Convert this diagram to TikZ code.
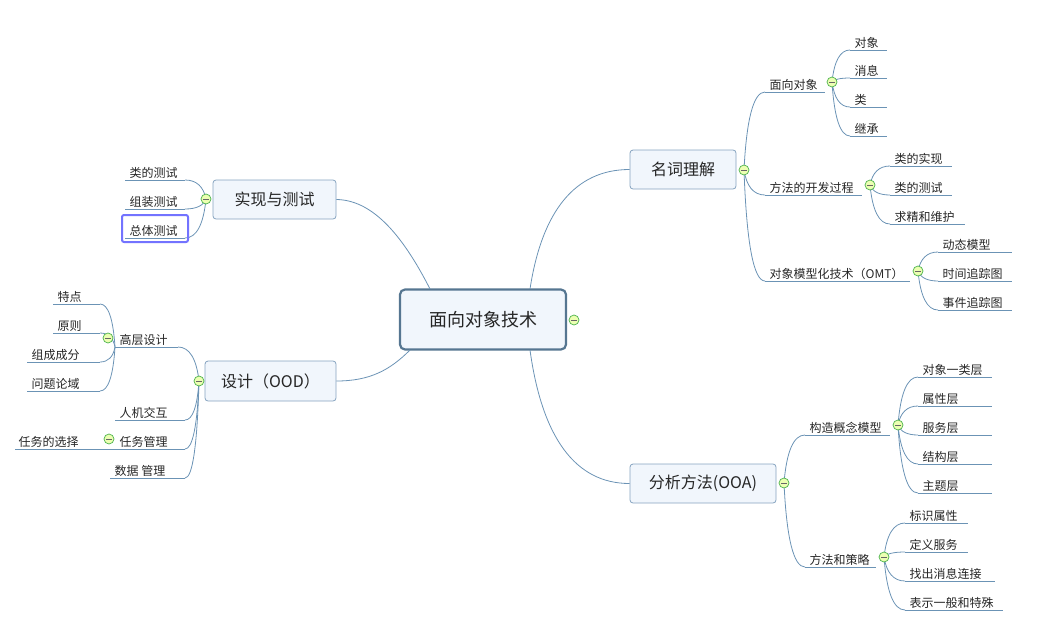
\documentclass[tikz,border=0pt]{standalone}
\usepackage{fontspec}
\newfontfamily\cjk{Noto Sans CJK SC}
\usetikzlibrary{calc}
\definecolor{lnc}{HTML}{6B93B5}
\definecolor{bxf}{HTML}{F1F6FC}
\definecolor{bxd}{HTML}{86A3C0}
\tikzset{
 ln/.style={draw=lnc,line width=0.8pt},
 lt/.style={font=\cjk\fontsize{12}{14}\selectfont,inner sep=1.5pt,text=black!85},
 mainbox/.style={draw=bxd,fill=bxf,rounded corners=3pt,line width=0.8pt,font=\cjk\fontsize{16}{18}\selectfont,text=black!85},
 tog/.style={circle,draw=green!40!gray,fill=green!25!yellow!30,line width=0.7pt,minimum size=10pt,inner sep=0pt,
   path picture={\draw[black!60,line width=0.8pt] ([xshift=-2.8pt]path picture bounding box.center) -- ([xshift=2.8pt]path picture bounding box.center);}}
}
\newcommand\lf[5]{\draw[ln] (#2,#4) coordinate(#1L) -- (#3,#4) coordinate(#1R);
 \node[lt,anchor=south west] (#1) at (#2+3,#4) {#5};}
\newcommand\cn[2]{\draw[ln] let \p1=(#1), \p2=(#2) in (\p1) .. controls (\x1+0.12*\x2-0.12*\x1, 0.35*\y1+0.65*\y2) and (\x1+0.45*\x2-0.45*\x1,\y2) .. (\p2);}
\begin{document}
\begin{tikzpicture}[x=1pt,y=-1pt]
\useasboundingbox (0,0) rectangle (1051,627);
% center
\node[mainbox,draw=lnc!80!black,line width=2.2pt,rounded corners=5pt,fill=bxf,minimum width=166pt,minimum height=60pt,font=\cjk\fontsize{18}{20}\selectfont] (c) at (483,319.5) {面向对象技术};
\node[tog] (cT) at (574,320) {};
% main boxes
\node[mainbox,minimum width=106pt,minimum height=39pt] (m1) at (683,169.5) {名词理解};
\node[mainbox,minimum width=146pt,minimum height=39pt] (m2) at (703,483.5) {分析方法(OOA)};
\node[mainbox,minimum width=123pt,minimum height=39pt] (m3) at (274.5,199.5) {实现与测试};
\node[mainbox,minimum width=131pt,minimum height=40pt] (m4) at (270.5,381) {设计（OOD）};
\coordinate (cA) at (430,289); \coordinate (cB) at (530,289);
\coordinate (cC) at (410,350); \coordinate (cD) at (530,350);
\cn{cB}{m1.west}
\cn{cD}{m2.west}
\draw[ln] (cA) .. controls (400,230) and (370,200) .. (m3.east);
\draw[ln] (cC) .. controls (390,370) and (370,381) .. (m4.east);
% names branch
\coordinate (t1) at (744,170);
\lf{a1}{765}{825}{92}{面向对象}
\lf{a2}{765}{862}{195}{方法的开发过程}
\lf{a3}{765}{910}{281}{对象模型化技术（OMT）}
\cn{t1}{a1L}\cn{t1}{a2L}\cn{t1}{a3L}
\coordinate (t11) at (832,82);
\lf{b1}{850}{887}{50}{对象}
\lf{b2}{850}{887}{78}{消息}
\lf{b3}{850}{887}{107}{类}
\lf{b4}{850}{887}{136}{继承}
\cn{t11}{b1L}\cn{t11}{b2L}\cn{t11}{b3L}\cn{t11}{b4L}
\coordinate (t12) at (870,185);
\lf{b5}{890}{952}{166}{类的实现}
\lf{b6}{890}{952}{195}{类的测试}
\lf{b7}{890}{965}{224}{求精和维护}
\cn{t12}{b5L}\cn{t12}{b6L}\cn{t12}{b7L}
\coordinate (t13) at (918,271);
\lf{b8}{938}{1012}{252}{动态模型}
\lf{b9}{938}{1012}{281}{时间追踪图}
\lf{b10}{938}{1012}{310}{事件追踪图}
\cn{t13}{b8L}\cn{t13}{b9L}\cn{t13}{b10L}
\node[tog] at (t1) {};\node[tog] at (t11) {};\node[tog] at (t12) {};\node[tog] at (t13) {};
% analysis branch
\coordinate (t2) at (784,483);
\lf{d1}{805}{890}{435}{构造概念模型}
\lf{d2}{805}{876}{567}{方法和策略}
\cn{t2}{d1L}\cn{t2}{d2L}
\coordinate (t21) at (898,425);
\lf{e1}{918}{992}{377}{对象一类层}
\lf{e2}{918}{992}{406}{属性层}
\lf{e3}{918}{992}{435}{服务层}
\lf{e4}{918}{992}{464}{结构层}
\lf{e5}{918}{992}{493}{主题层}
\cn{t21}{e1L}\cn{t21}{e2L}\cn{t21}{e3L}\cn{t21}{e4L}\cn{t21}{e5L}
\coordinate (t22) at (884,557);
\lf{e6}{905}{968}{523}{标识属性}
\lf{e7}{905}{968}{552}{定义服务}
\lf{e8}{905}{995}{581}{找出消息连接}
\lf{e9}{905}{1003}{610}{表示一般和特殊}
\cn{t22}{e6L}\cn{t22}{e7L}\cn{t22}{e8L}\cn{t22}{e9L}
\node[tog] at (t2) {};\node[tog] at (t21) {};\node[tog] at (t22) {};
% implementation branch
\coordinate (t3) at (206,199);
\lf{f1}{125}{185}{180}{类的测试}
\lf{f2}{125}{185}{209}{组装测试}
\lf{f3}{125}{185}{238}{总体测试}
\cn{t3}{f1R}\cn{t3}{f2R}\cn{t3}{f3R}
\draw[draw=blue!55!white,line width=2pt,rounded corners=2pt] (122,215) rectangle (188,242);
\node[tog] at (t3) {};
% design branch
\coordinate (t4) at (199,381);
\lf{g1}{115}{178}{347}{高层设计}
\lf{g2}{115}{185}{420}{人机交互}
\draw[ln] (15,449) coordinate(g3L) -- (185,449) coordinate(g3R);
\node[lt,anchor=south west] (g3) at (118,449) {任务管理};
\node[lt,anchor=south west] (g3b) at (17,449) {任务的选择};
\lf{g4}{110}{185}{478}{数据\ 管理}
\cn{t4}{g1R}\cn{t4}{g2R}\cn{t4}{g3R}\cn{t4}{g4R}
\coordinate (t41) at (108,338);
\coordinate (g1s) at (115,347);
\lf{h1}{53}{100}{304}{特点}
\lf{h2}{53}{100}{333}{原则}
\lf{h3}{27}{100}{362}{组成成分}
\lf{h4}{27}{100}{391}{问题论域}
\cn{g1s}{h1R}\cn{g1s}{h2R}\cn{g1s}{h3R}\cn{g1s}{h4R}
\node[tog] at (t4) {};\node[tog] at (t41) {};\node[tog] at (109,439) {};
\end{tikzpicture}
\end{document}
